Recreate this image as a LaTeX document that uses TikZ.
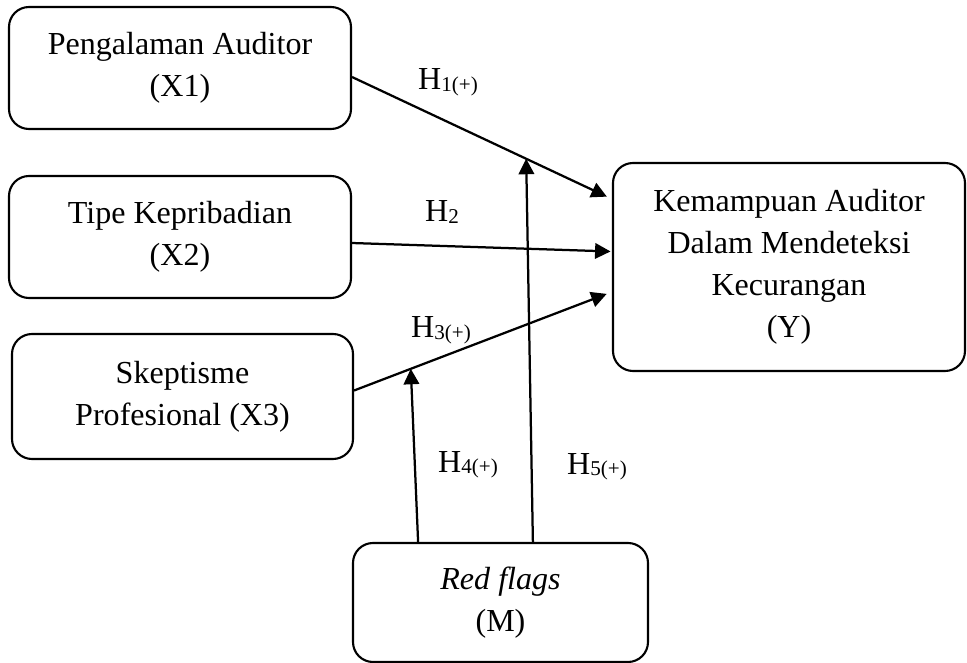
\documentclass[tikz,border=0pt]{standalone}
\usepackage{fontspec}
\setmainfont{Liberation Serif}
\usetikzlibrary{arrows.meta,positioning,calc}
\newcommand{\hsub}[1]{\raisebox{-1.2pt}{\fontsize{15}{15}\selectfont #1}}

\begin{document}
\begin{tikzpicture}[
    varbox/.style={draw, rounded corners=0.5cm, line width=1.5pt, align=center, font=\fontsize{22.8}{30}\selectfont, inner sep=2pt},
    myarrow/.style={-{Triangle[length=11pt,width=11pt]}, line width=1.6pt},
    hlabel/.style={font=\fontsize{22.8}{30}\selectfont, inner sep=0pt}
]
    \useasboundingbox (0,0) rectangle (24.175,-16.575);

    % Independent variables
    \node[varbox, minimum width=8.55cm, minimum height=3.05cm] (x1) at (4.5,-1.7) {Pengalaman Auditor\\(X1)};
    \node[varbox, minimum width=8.55cm, minimum height=3.05cm] (x2) at (4.5,-5.925) {Tipe Kepribadian\\(X2)};
    \node[varbox, minimum width=8.525cm, minimum height=3.125cm] (x3) at (4.5625,-9.9125) {Skeptisme\\Profesional (X3)};

    % Dependent variable
    \node[varbox, minimum width=8.8cm, minimum height=5.2cm] (y) at (19.725,-6.675) {Kemampuan Auditor\\Dalam Mendeteksi\\Kecurangan\\(Y)};

    % Moderating variable
    \node[varbox, minimum width=7.375cm, minimum height=2.975cm] (m) at (12.5125,-15.0625) {\textit{Red flags}\\(M)};

    % Direct paths
    \draw[myarrow, shorten >=4pt] (x1.-3) -- (y.159);
    \draw[myarrow, shorten >=1pt] (x2.-2) -- (y.175);
    \draw[myarrow, shorten >=4pt] (x3.2) -- (y.188);

    % Moderation paths
    \coordinate (m4) at ([xshift=-2.06cm]m.north);
    \coordinate (m5) at ([xshift=0.81cm]m.north);
    \coordinate (t4) at ($(x3.2)!0.22!(y.188)$);
    \coordinate (t5) at ($(x1.-3)!0.67!(y.159)$);
    \draw[myarrow] (m4) -- (t4);
    \draw[myarrow] (m5) -- (t5);

    % Hypothesis labels
    \node[hlabel] (h1) at (11.2,-2.05) {H\hsub{1(+)}};
    \node[hlabel] (h2) at (11.05,-5.3) {H\hsub{2}};
    \node[hlabel] (h3) at (11.025,-8.25) {H\hsub{3(+)}};
    \node[hlabel] (h4) at (11.7,-11.62) {H\hsub{4(+)}};
    \node[hlabel] (h5) at (14.925,-11.67) {H\hsub{5(+)}};
\end{tikzpicture}
\end{document}
